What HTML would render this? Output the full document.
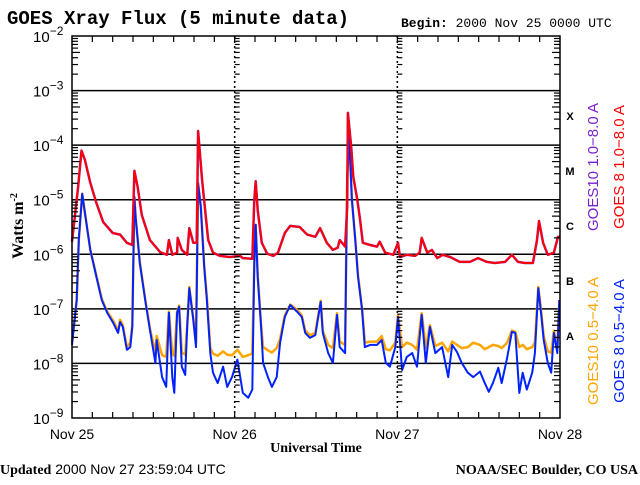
<!DOCTYPE html>
<html><head><meta charset="utf-8"><style>
body{margin:0;background:#fff;width:640px;height:480px;overflow:hidden}
svg text{font-family:"Liberation Sans",sans-serif}
</style></head><body>
<svg id="chart" width="640" height="480" viewBox="0 0 640 480">
<rect x="0" y="0" width="640" height="480" fill="#fff"/>
<g id="grid"></g>
<g id="series"></g>
<g id="axes"></g>
<text x="7" y="24" font-weight="bold" font-size="19" style="font-family:'Liberation Mono',monospace">GOES Xray Flux (5 minute data)</text>
<text x="401" y="27" font-size="13" style="font-family:'Liberation Mono',monospace"><tspan font-weight="bold">Begin:</tspan>  2000 Nov 25 0000 UTC</text>
<text transform="translate(23,226) rotate(-90)" text-anchor="middle" font-weight="bold" font-size="16" style="font-family:'Liberation Serif',serif">Watts m<tspan dy="-6" font-size="10">-2</tspan></text>
<text x="316" y="452" text-anchor="middle" font-weight="bold" font-size="14" style="font-family:'Liberation Serif',serif">Universal Time</text>
<text x="0" y="474" font-size="14"><tspan font-weight="bold" style="font-family:'Liberation Serif',serif">Updated</tspan> 2000 Nov 27 23:59:04 UTC</text>
<text x="638" y="474" text-anchor="end" font-weight="bold" font-size="14" style="font-family:'Liberation Serif',serif">NOAA/SEC Boulder, CO USA</text>
<g font-weight="bold" font-size="11" style="font-family:'Liberation Serif',serif" text-anchor="middle">
<text x="570" y="120">X</text>
<text x="570" y="175">M</text>
<text x="570" y="230">C</text>
<text x="570" y="285">B</text>
<text x="570" y="340">A</text>
</g>
<g font-size="15">
<text transform="translate(598,167) rotate(-90)" text-anchor="middle" fill="#7a1fd0">GOES10 1.0−8.0 A</text>
<text transform="translate(624,167) rotate(-90)" text-anchor="middle" fill="#ff0000">GOES 8 1.0−8.0 A</text>
<text transform="translate(598,341) rotate(-90)" text-anchor="middle" fill="#ffa500">GOES10 0.5−4.0 A</text>
<text transform="translate(624,341) rotate(-90)" text-anchor="middle" fill="#0022ff">GOES 8 0.5−4.0 A</text>
</g>
</svg>
<script>
const dayLabels = ["Nov 25","Nov 26","Nov 27","Nov 28"];
const decades = [-2,-3,-4,-5,-6,-7,-8,-9];
const redT = [0,0.9,1.4,1.9,2.7,3.6,4.6,6.0,7.1,8.1,8.9,9.2,9.7,10.3,11.5,13.0,14.0,14.3,14.8,15.5,15.6,16.2,17.0,17.3,17.9,18.4,18.6,19.2,19.6,20.1,20.8,21.8,23.3,24.8,25.2,26.6,26.9,27.1,27.4,28.0,28.8,29.7,30.4,31.4,32.2,33.6,34.7,35.9,36.6,37.6,38.5,39.2,39.5,40.3,40.6,40.7,41.2,41.5,42.1,42.5,42.9,44.0,45.0,45.4,46.2,47.4,48.1,48.4,49.4,50.6,51.3,51.6,52.4,53.1,53.9,54.7,55.8,57.2,58.7,59.9,61.2,62.4,63.9,64.9,65.8,66.8,68.0,68.6,68.9,69.5,70.2,71.1,71.7,72];
const redLog = [-5.77,-4.77,-4.10,-4.27,-4.69,-5.06,-5.41,-5.61,-5.64,-5.79,-5.83,-4.47,-4.77,-5.28,-5.74,-5.96,-6.01,-5.74,-6.01,-5.97,-5.70,-5.92,-6.01,-5.52,-5.79,-5.79,-3.74,-4.64,-5.13,-5.74,-5.97,-6.03,-6.05,-6.03,-6.07,-6.08,-5.00,-4.66,-5.19,-5.79,-5.99,-6.03,-5.97,-5.61,-5.48,-5.50,-5.64,-5.68,-5.52,-5.79,-5.92,-5.88,-5.74,-5.86,-5.13,-3.41,-4.03,-4.58,-5.00,-5.37,-5.79,-5.83,-5.86,-5.77,-5.97,-6.01,-5.79,-6.05,-6.01,-6.03,-5.97,-5.70,-5.97,-5.92,-6.07,-6.01,-6.05,-6.14,-6.14,-6.07,-6.14,-6.16,-6.14,-6.01,-6.14,-6.16,-6.16,-5.74,-5.39,-5.79,-6.01,-5.97,-5.68,-5.68];
const blueT = [0,0.7,1.0,1.5,1.9,2.7,3.7,4.4,5.2,6.1,6.8,7.1,7.5,8.1,8.6,8.9,9.2,9.4,10.0,10.8,11.5,12.3,12.5,13.3,13.9,14.3,14.8,15.1,15.5,15.8,16.2,16.7,17.0,17.3,17.9,18.3,18.6,19.0,19.5,19.9,20.4,20.8,21.5,22.3,22.9,23.6,24.4,25.2,26.0,26.6,26.9,27.1,27.4,27.9,28.2,28.9,29.5,30.2,30.7,31.4,32.2,33.2,33.9,34.4,35.1,35.9,36.7,37.0,37.8,38.5,39.1,39.5,40.3,40.6,40.9,41.3,41.8,42.2,42.8,43.2,44.0,45.0,45.7,46.3,46.9,47.7,48.1,48.7,49.4,50.2,50.9,51.6,52.2,52.8,53.6,54.6,55.5,56.1,56.8,57.5,58.4,59.2,60.2,60.9,61.5,62.1,62.9,63.4,64.2,64.9,65.4,66.0,66.5,67.1,67.9,68.3,68.8,69.2,69.6,70.2,70.7,71.1,71.6,71.9];
const blueLog = [-7.66,-6.84,-5.74,-4.89,-5.24,-5.92,-6.47,-6.84,-7.07,-7.26,-7.44,-7.24,-7.33,-7.75,-7.70,-7.33,-4.95,-5.33,-6.16,-6.84,-7.38,-7.99,-7.57,-8.25,-8.43,-7.07,-8.25,-8.54,-7.07,-6.96,-8.06,-8.21,-7.33,-6.62,-7.20,-7.70,-4.70,-5.13,-6.23,-6.84,-7.81,-8.17,-8.36,-8.06,-8.43,-8.25,-7.93,-8.54,-8.63,-8.48,-6.16,-5.46,-6.41,-7.33,-7.99,-8.25,-8.43,-8.25,-7.62,-7.15,-6.93,-7.05,-7.15,-7.44,-7.53,-7.48,-6.87,-7.44,-7.81,-7.99,-7.11,-7.70,-7.81,-4.58,-3.85,-5.00,-5.74,-6.41,-7.02,-7.70,-7.66,-7.66,-7.57,-7.99,-8.06,-7.70,-7.15,-8.12,-7.88,-7.81,-8.06,-7.11,-7.99,-7.33,-7.81,-7.70,-8.25,-7.66,-7.79,-7.99,-8.17,-8.25,-8.15,-8.36,-8.52,-8.36,-8.08,-8.36,-7.90,-7.42,-7.44,-8.54,-8.17,-8.48,-8.17,-7.81,-6.62,-7.07,-7.57,-7.99,-8.17,-7.44,-7.81,-6.84];
const orangeLog = [-7.60,-6.84,-5.74,-4.89,-5.24,-5.92,-6.45,-6.82,-7.05,-7.22,-7.40,-7.20,-7.30,-7.70,-7.62,-7.30,-4.95,-5.33,-6.14,-6.82,-7.36,-7.80,-7.50,-7.85,-7.88,-7.05,-7.82,-7.86,-7.05,-6.94,-7.80,-7.84,-7.30,-6.60,-7.18,-7.62,-4.70,-5.13,-6.20,-6.80,-7.72,-7.82,-7.86,-7.78,-7.84,-7.85,-7.75,-7.88,-7.85,-7.82,-6.14,-5.46,-6.38,-7.30,-7.70,-7.76,-7.80,-7.72,-7.55,-7.12,-6.92,-7.02,-7.12,-7.40,-7.48,-7.44,-6.85,-7.40,-7.66,-7.72,-7.08,-7.60,-7.66,-4.58,-3.85,-5.00,-5.74,-6.38,-7.00,-7.62,-7.60,-7.60,-7.50,-7.74,-7.76,-7.62,-7.12,-7.70,-7.62,-7.66,-7.75,-7.08,-7.72,-7.30,-7.68,-7.62,-7.78,-7.60,-7.66,-7.72,-7.70,-7.62,-7.66,-7.74,-7.70,-7.66,-7.68,-7.72,-7.62,-7.40,-7.42,-7.70,-7.66,-7.74,-7.70,-7.62,-6.60,-7.02,-7.50,-7.78,-7.80,-7.40,-7.72,-6.84];

const X0=72, X1=560, Y0=36, Y1=418;
function xs(h){ return X0 + h*(X1-X0)/72; }
function ys(lg){ return Y0 + (-2-lg)*(Y1-Y0)/7; }
const NS="http://www.w3.org/2000/svg";
function mk(tag, attrs, parent){ const e=document.createElementNS(NS,tag); for(const k in attrs) e.setAttribute(k,attrs[k]); parent.appendChild(e); return e; }
const grid=document.getElementById('grid'), axes=document.getElementById('axes'), series=document.getElementById('series');

decades.forEach(d=>{
  if(d===-2||d===-9) return;
  const l=mk('line',{x1:X0,x2:X1,y1:ys(d),y2:ys(d),stroke:'#000','stroke-width':1.5},grid);
  
  
});
[1,2].forEach(i=>{
  const l=mk('line',{x1:xs(i*24),x2:xs(i*24),y1:Y0,y2:Y1,stroke:'#000','stroke-width':1.5,'stroke-dasharray':'2,3'},grid);
  
  
});

function poly(T,L,color,name,w){
  const pts=T.map((t,i)=>xs(t).toFixed(1)+','+ys(L[i]).toFixed(1));
  const p=mk('polyline',{points:pts.join(' '),fill:'none',stroke:color,'stroke-width':w,'stroke-linejoin':'round'},series);
  
  
}
poly(blueT,orangeLog,'#ffa500','series-goes10-short',2.5);
poly(blueT,blueLog,'#0022ff','series-goes8-short',2);
poly(redT,redLog,'#7a1fd0','series-goes10-long',2.5);
poly(redT,redLog,'#ff0000','series-goes8-long',2);

const fr=mk('rect',{x:X0,y:Y0,width:X1-X0,height:Y1-Y0,fill:'none',stroke:'#000','stroke-width':1.5},axes);



decades.forEach(d=>{
  const lab=mk('text',{x:33,y:ys(d)+6,'font-size':15,'text-anchor':'start'},axes);
  
  
  lab.innerHTML='10<tspan dy="-7" font-size="12">−'+(-d)+'</tspan>';
  if(d===-9) return;
  for(let m=2;m<=9;m++){
    const y=ys(d-1+Math.log10(m)); const len=(m===5)?8:6;
    [[X0,X0+len],[X1,X1-len],[xs(24),xs(24)+5],[xs(48),xs(48)+5]].forEach(s=>{
      const t=mk('line',{x1:s[0],x2:s[1],y1:y,y2:y,stroke:'#000','stroke-width':1.2},axes);
      
      
    });
  }
});
for(let h=3;h<72;h+=3){
  const len=6;
  [[Y0,Y0+len],[Y1,Y1-len]].forEach(s=>{
    const t=mk('line',{x1:xs(h),x2:xs(h),y1:s[0],y2:s[1],stroke:'#000','stroke-width':1.2},axes);
    
    
  });
}
dayLabels.forEach((s,i)=>{
  const t=mk('text',{x:xs(i*24),y:439,'font-size':14,'text-anchor':'middle'},axes);
  
  
  t.textContent=s;
});
</script>
</body></html>
